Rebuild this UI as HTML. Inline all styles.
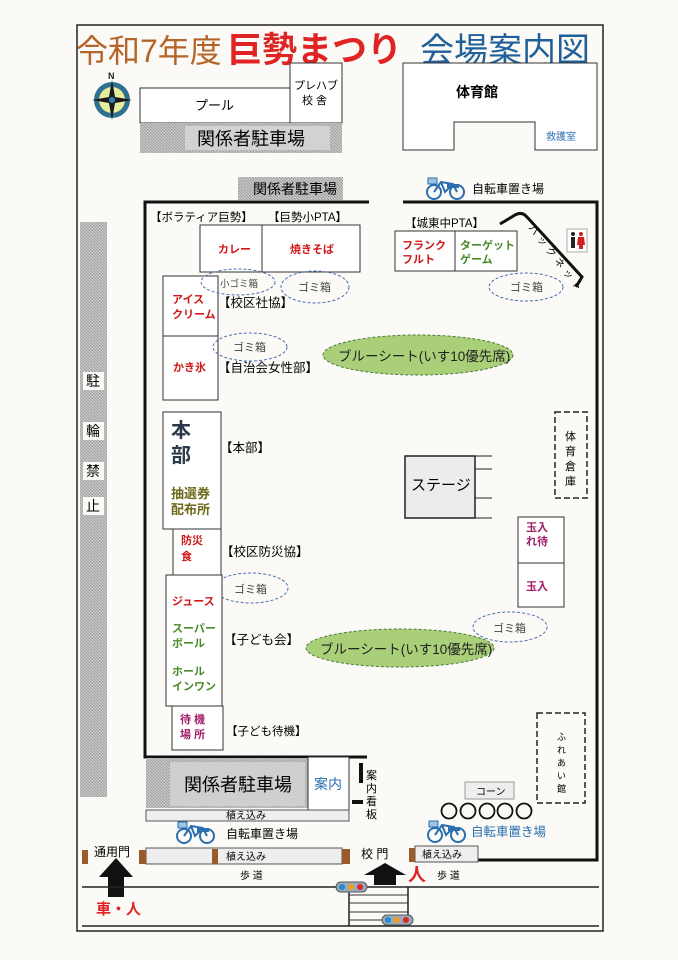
<!DOCTYPE html>
<html><head><meta charset="utf-8"><style>
html,body{margin:0;padding:0;background:#fbfaf6;}
svg{display:block;font-family:"Liberation Sans","Noto Sans CJK JP",sans-serif;}
</style></head><body>
<svg width="678" height="960" viewBox="0 0 678 960" xmlns="http://www.w3.org/2000/svg">
<defs>
<pattern id="h" width="3" height="3" patternUnits="userSpaceOnUse"><rect width="3" height="3" fill="#c8c8c8"/><path d="M0 0L3 3" stroke="#999" stroke-width="0.8"/></pattern>
<g id="bike"><circle cx="7" cy="14" r="7" fill="none" stroke="#2a6fb0" stroke-width="2"/><circle cx="30" cy="14" r="7" fill="none" stroke="#2a6fb0" stroke-width="2"/><path d="M7 14 L14 4 L26 6 L30 14 M14 4 L18 14 L26 6" fill="none" stroke="#2a6fb0" stroke-width="2"/><rect x="1" y="0" width="9" height="6" fill="#9fc3e0" stroke="#2a6fb0"/><rect x="20" y="6" width="12" height="4" fill="#2a6fb0"/></g>
</defs>
<!-- outer frame -->
<rect x="77" y="25" width="526" height="906" fill="none" stroke="#222" stroke-width="1.5"/>
<!-- title -->
<text x="76" y="62" font-size="32" fill="#b5652a">令和7年度</text>
<text x="227" y="62" font-size="35" font-weight="bold" fill="#e02424">巨勢まつり</text>
<text x="420" y="62" font-size="34" fill="#1f5f9a">会場案内図</text>
<!-- compass -->
<text x="108" y="79" font-size="9" font-weight="bold" fill="#222">N</text>
<circle cx="112" cy="100" r="18" fill="#2f6f8f"/><circle cx="112" cy="100" r="13" fill="#e6ec9a"/>
<path d="M112 80L115 97L132 100L115 103L112 120L109 103L92 100L109 97Z" fill="#1a1a1a"/>
<circle cx="112" cy="100" r="3" fill="#2f7fbf"/>
<!-- pool -->
<rect x="140" y="88" width="150" height="35" fill="#fff" stroke="#333"/>
<text x="195" y="110" font-size="13">プール</text>
<rect x="290" y="63" width="52" height="60" fill="#fff" stroke="#333"/>
<text x="294" y="89" font-size="11">プレハブ</text><text x="302" y="104" font-size="11">校 舎</text>
<rect x="140" y="123" width="202" height="30" fill="url(#h)"/>
<rect x="185" y="126" width="145" height="24" fill="#d2d2d2"/>
<text x="197" y="145" font-size="18">関係者駐車場</text>
<!-- gym -->
<path d="M403 63H597V150H535V122H454V150H403Z" fill="#fff" stroke="#333"/>
<line x1="535" y1="122" x2="535" y2="150" stroke="#333"/>
<text x="456" y="97" font-size="14" font-weight="bold">体育館</text>
<text x="546" y="140" font-size="10" fill="#2a6fb0">救護室</text>
<!-- parking 2 -->
<rect x="238" y="177" width="105" height="23" fill="url(#h)"/>
<text x="253" y="194" font-size="14">関係者駐車場</text>
<use href="#bike" x="427" y="178"/>
<text x="472" y="193" font-size="12">自転車置き場</text>
<!-- no parking bar -->
<rect x="80" y="222" width="27" height="575" fill="url(#h)"/>
<g font-size="14"><rect x="83" y="372" width="21" height="18" fill="#fbfaf6"/><text x="86" y="386">駐</text>
<rect x="83" y="422" width="21" height="18" fill="#fbfaf6"/><text x="86" y="436">輪</text>
<rect x="83" y="462" width="21" height="18" fill="#fbfaf6"/><text x="86" y="476">禁</text>
<rect x="83" y="497" width="21" height="18" fill="#fbfaf6"/><text x="86" y="511">止</text></g>
<!-- enclosure -->
<g stroke="#111" stroke-width="3" fill="none">
<path d="M369 202H145V757H367"/>
<path d="M403 202H597V860H478"/>
</g>
<!-- top booths -->
<g font-size="11.5"><text x="150" y="221">【ボラティア巨勢】</text><text x="268" y="221">【巨勢小PTA】</text>
<text x="405" y="227">【城東中PTA】</text></g>
<g fill="#fff" stroke="#333"><rect x="200" y="225" width="62" height="47"/><rect x="262" y="225" width="98" height="47"/>
<rect x="395" y="231" width="60" height="40"/><rect x="455" y="231" width="62" height="40"/>
<rect x="163" y="276" width="55" height="60"/><rect x="163" y="336" width="55" height="64"/></g>
<g font-weight="bold" font-size="11" fill="#d01818">
<text x="218" y="253">カレー</text><text x="290" y="253">焼きそば</text>
<text x="402" y="249">フランク</text><text x="402" y="263">フルト</text>
<text x="172" y="303">アイス</text><text x="172" y="318">クリーム</text>
<text x="173" y="371">かき氷</text></g>
<g font-weight="bold" font-size="11" fill="#4a8a2a"><text x="460" y="249">ターゲット</text><text x="460" y="263">ゲーム</text></g>
<!-- backnet -->
<path d="M500 224 L515 215 Q522 211 527 217 L582 277 L576 287" fill="none" stroke="#111" stroke-width="3"/>
<text transform="translate(528,228) rotate(52)" font-size="10" letter-spacing="4">バックネット</text>
<rect x="567" y="229" width="20" height="23" fill="#fff" stroke="#aaa"/>
<circle cx="573" cy="234" r="2" fill="#222"/><rect x="571" y="237" width="4" height="11" fill="#222"/>
<circle cx="581" cy="234" r="2" fill="#d02020"/><path d="M578 237H584L585 245H577Z" fill="#d02020"/><rect x="579" y="245" width="4" height="4" fill="#d02020"/>
<!-- ellipses -->
<g fill="none" stroke="#4a6fb0" stroke-dasharray="3,2">
<ellipse cx="238" cy="282" rx="37" ry="13"/><ellipse cx="315" cy="287" rx="34" ry="16"/>
<ellipse cx="526" cy="287" rx="37" ry="14"/><ellipse cx="250" cy="347" rx="37" ry="14"/>
<ellipse cx="251" cy="588" rx="37" ry="15"/><ellipse cx="510" cy="627" rx="37" ry="15"/></g>
<g fill="#a9cf78" stroke="#4a7a3a" stroke-dasharray="3,2">
<ellipse cx="418" cy="355" rx="95" ry="20"/><ellipse cx="400" cy="648" rx="94" ry="19"/></g>
<g font-size="11" fill="#444"><text x="220" y="287" font-size="9.5">小ゴミ箱</text><text x="298" y="291">ゴミ箱</text>
<text x="510" y="291">ゴミ箱</text><text x="233" y="351">ゴミ箱</text><text x="234" y="593">ゴミ箱</text><text x="493" y="632">ゴミ箱</text></g>
<g font-size="13.5" fill="#222"><text x="338" y="361">ブルーシート(いす10優先席)</text><text x="320" y="654">ブルーシート(いす10優先席)</text></g>
<g font-size="12.5"><text x="218" y="307">【校区社協】</text><text x="218" y="372">【自治会女性部】</text>
<text x="220" y="452">【本部】</text><text x="221" y="556">【校区防災協】</text><text x="224" y="644">【子ども会】</text>
<text x="226" y="735" font-size="11.5">【子ども待機】</text></g>
<!-- left column -->
<g fill="#fff" stroke="#333"><rect x="163" y="412" width="58" height="117"/><rect x="173" y="529" width="48" height="46"/>
<rect x="166" y="575" width="56" height="131"/><rect x="172" y="706" width="51" height="44"/></g>
<g font-weight="bold"><text x="171" y="437" font-size="20" fill="#2a3a4a">本</text><text x="171" y="462" font-size="20" fill="#2a3a4a">部</text>
<text x="171" y="498" font-size="13" fill="#6a6a1a">抽選券</text><text x="171" y="514" font-size="13" fill="#6a6a1a">配布所</text>
<text x="181" y="544" font-size="11" fill="#d01818">防災</text><text x="181" y="560" font-size="11" fill="#d01818">食</text>
<text x="172" y="605" font-size="11" fill="#d01818">ジュース</text>
<text x="172" y="632" font-size="11" fill="#4a8a2a">スーパー</text><text x="172" y="647" font-size="11" fill="#4a8a2a">ボール</text>
<text x="172" y="675" font-size="11" fill="#4a8a2a">ホール</text><text x="172" y="690" font-size="11" fill="#4a8a2a">インワン</text>
<text x="180" y="723" font-size="11" fill="#a0206a">待 機</text><text x="180" y="738" font-size="11" fill="#a0206a">場 所</text></g>
<!-- stage -->
<rect x="405" y="456" width="70" height="62" fill="#ececec" stroke="#222" stroke-width="1.5"/>
<g stroke="#222"><line x1="475" y1="456" x2="492" y2="456"/><line x1="475" y1="469" x2="492" y2="469"/><line x1="475" y1="498" x2="492" y2="498"/><line x1="475" y1="518" x2="492" y2="518"/></g>
<text x="411" y="490" font-size="15">ステージ</text>
<g fill="none" stroke="#222" stroke-width="1.5" stroke-dasharray="6,3"><rect x="555" y="412" width="32" height="86"/><rect x="537" y="713" width="48" height="90"/></g>
<g font-size="11"><text x="565" y="440">体</text><text x="565" y="455">育</text><text x="565" y="470">倉</text><text x="565" y="485">庫</text></g>
<g font-size="9"><text x="557" y="740">ふ</text><text x="557" y="753">れ</text><text x="557" y="766">あ</text><text x="557" y="779">い</text><text x="557" y="792">館</text></g>
<g fill="#fff" stroke="#333"><rect x="518" y="517" width="46" height="46"/><rect x="518" y="563" width="46" height="44"/></g>
<g font-weight="bold" font-size="11" fill="#a0206a"><text x="526" y="531">玉入</text><text x="526" y="545">れ待</text><text x="526" y="590">玉入</text></g>
<!-- bottom parking -->
<rect x="146" y="758" width="162" height="50" fill="url(#h)"/><rect x="170" y="762" width="135" height="44" fill="#cfcfcf"/>
<text x="184" y="791" font-size="18">関係者駐車場</text>
<rect x="308" y="757" width="41" height="53" fill="#fff" stroke="#333"/>
<text x="314" y="789" font-size="14" fill="#2a6fb0">案内</text>
<rect x="359" y="763" width="4" height="20" fill="#111"/><rect x="352" y="800" width="11" height="4" fill="#111"/>
<g font-size="11"><text x="366" y="779">案</text><text x="366" y="792">内</text><text x="366" y="805">看</text><text x="366" y="818">板</text></g>
<rect x="146" y="810" width="203" height="11" fill="#eee" stroke="#555"/>
<text x="226" y="819" font-size="10">植え込み</text>
<use href="#bike" x="177" y="822"/><text x="226" y="838" font-size="12">自転車置き場</text>
<rect x="465" y="782" width="49" height="17" fill="#eee" stroke="#999"/><text x="476" y="795" font-size="10">コーン</text>
<g fill="none" stroke="#111" stroke-width="1.8"><circle cx="449" cy="811" r="7.5"/><circle cx="468" cy="811" r="7.5"/><circle cx="487" cy="811" r="7.5"/><circle cx="505" cy="811" r="7.5"/><circle cx="524" cy="811" r="7.5"/></g>
<use href="#bike" x="428" y="821"/><text x="471" y="836" font-size="12.5" fill="#2a6fb0">自転車置き場</text>
<!-- gate row -->
<rect x="146" y="848" width="196" height="16" fill="#eee" stroke="#555"/>
<rect x="415" y="846" width="63" height="16" fill="#eee" stroke="#555"/>
<g fill="#9a5a2a"><rect x="82" y="850" width="6" height="14"/><rect x="139" y="850" width="7" height="14"/><rect x="212" y="849" width="6" height="15"/><rect x="342" y="849" width="8" height="15"/><rect x="409" y="848" width="6" height="14"/></g>
<g font-size="10"><text x="226" y="860">植え込み</text><text x="422" y="858">植え込み</text></g>
<text x="94" y="856" font-size="12">通用門</text>
<text x="361" y="858" font-size="12">校 門</text>
<g font-size="10"><text x="240" y="879">歩 道</text><text x="437" y="879">歩 道</text></g>
<path d="M116 858L133 877H124V897H108V877H99Z" fill="#111"/>
<path d="M385 863L406 875H396V885H374V875H364Z" fill="#111"/>
<text x="408" y="881" font-size="18" font-weight="bold" fill="#e02424">人</text>
<text x="96" y="914" font-size="15" font-weight="bold" fill="#e02424">車・人</text>
<!-- road -->
<g stroke="#222" stroke-width="1.5"><line x1="82" y1="887" x2="599" y2="887"/><line x1="82" y1="926" x2="599" y2="926"/>
<line x1="349" y1="887" x2="349" y2="926"/><line x1="408" y1="887" x2="408" y2="926"/></g>
<g stroke="#333"><line x1="349" y1="895" x2="408" y2="895"/><line x1="349" y1="903" x2="408" y2="903"/><line x1="349" y1="912" x2="408" y2="912"/><line x1="349" y1="920" x2="408" y2="920"/></g>
<g><rect x="336" y="882" width="31" height="10" rx="5" fill="#9ab" stroke="#555"/><circle cx="342" cy="887" r="3" fill="#2a8ad0"/><circle cx="351" cy="887" r="3" fill="#f0a020"/><circle cx="360" cy="887" r="3" fill="#e02424"/>
<rect x="382" y="915" width="31" height="10" rx="5" fill="#9ab" stroke="#555"/><circle cx="388" cy="920" r="3" fill="#2a8ad0"/><circle cx="397" cy="920" r="3" fill="#f0a020"/><circle cx="406" cy="920" r="3" fill="#e02424"/></g>
</svg>
</body></html>
